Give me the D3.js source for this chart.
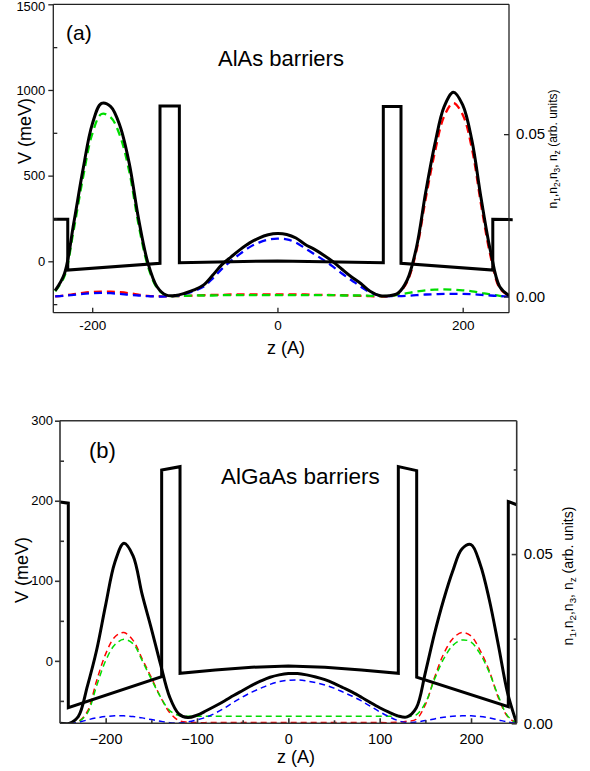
<!DOCTYPE html>
<html>
<head>
<meta charset="utf-8">
<script src="https://cdn.jsdelivr.net/npm/d3@7/dist/d3.min.js"></script>
<style>
  body { margin: 0; background: #fff; }
  svg text { font-family: Arial, "Liberation Sans", sans-serif; fill: #000; }
</style>
</head>
<body>
<svg id="chart" width="590" height="771"></svg>
<script>
// ---------- Panel (a): AlAs barriers ----------
// conduction-band potential (meV) along z (Å)
const potA_z = [-242, -226.4, -226.4, -126.8, -126.8, -105.9, -105.9, -50, 0, 50, 114.3, 114.3, 133.4, 133.4, 232.5, 232.5, 254];
const potA_v = [245, 245, -51, -12, 906, 906, -8, -2, 2, -2, -8, 904, 904, -12, -51, 245, 243];

// sample positions for the electron densities (Å)
const zA = [-240, -230, -220, -210, -200, -190, -180, -170, -160, -150, -140, -130, -120, -110, -100, -90, -80, -70, -60, -50,
            -40, -30, -20, -10, 0, 10, 20, 30, 40, 50, 60, 70, 80, 90, 100, 110, 120, 130, 140, 150,
            160, 170, 180, 190, 200, 210, 220, 230, 240, 250];
// total density n_z
const nzA = [0.0018, 0.0070, 0.0225, 0.0390, 0.0530, 0.0595, 0.0585, 0.0525, 0.0410, 0.0240, 0.0105, 0.0030, 0.0004, 0.0003, 0.0010, 0.0020, 0.0035, 0.0065, 0.0098, 0.0122,
             0.0145, 0.0165, 0.0180, 0.0190, 0.0194, 0.0191, 0.0180, 0.0160, 0.0145, 0.0127, 0.0107, 0.0083, 0.0060, 0.0040, 0.0016, 0.0003, 0.0002, 0.0010, 0.0050, 0.0150,
             0.0320, 0.0470, 0.0585, 0.0629, 0.0590, 0.0480, 0.0300, 0.0140, 0.0030, 0.0003];
// subband densities n1 (red), n2 (green), n3 (blue)
const n1A = [0.0000, 0.0003, 0.0007, 0.0011, 0.0014, 0.0015, 0.0015, 0.0013, 0.0010, 0.0006, 0.0002, 0.0001, 0.0000, 0.0001, 0.0002, 0.0003, 0.0004, 0.0005, 0.0005, 0.0006,
             0.0006, 0.0006, 0.0006, 0.0006, 0.0006, 0.0006, 0.0006, 0.0006, 0.0005, 0.0005, 0.0004, 0.0004, 0.0003, 0.0002, 0.0001, 0.0000, 0.0001, 0.0008, 0.0045, 0.0140,
             0.0300, 0.0445, 0.0555, 0.0596, 0.0560, 0.0455, 0.0280, 0.0125, 0.0025, 0.0002];
const n2A = [0.0016, 0.0062, 0.0205, 0.0365, 0.0500, 0.0562, 0.0552, 0.0495, 0.0385, 0.0222, 0.0095, 0.0026, 0.0003, 0.0001, 0.0002, 0.0003, 0.0003, 0.0003, 0.0004, 0.0004,
             0.0004, 0.0004, 0.0004, 0.0004, 0.0004, 0.0004, 0.0004, 0.0004, 0.0004, 0.0004, 0.0004, 0.0003, 0.0003, 0.0003, 0.0002, 0.0001, 0.0002, 0.0005, 0.0010, 0.0015,
             0.0019, 0.0021, 0.0022, 0.0021, 0.0019, 0.0016, 0.0011, 0.0006, 0.0002, 0.0000];
const n3A = [0.0000, 0.0002, 0.0005, 0.0008, 0.0010, 0.0011, 0.0010, 0.0008, 0.0005, 0.0003, 0.0001, 0.0000, 0.0000, 0.0002, 0.0008, 0.0017, 0.0030, 0.0055, 0.0085, 0.0110,
             0.0132, 0.0152, 0.0166, 0.0175, 0.0178, 0.0176, 0.0166, 0.0148, 0.0130, 0.0112, 0.0092, 0.0070, 0.0050, 0.0030, 0.0013, 0.0003, 0.0001, 0.0001, 0.0002, 0.0004,
             0.0006, 0.0007, 0.0008, 0.0008, 0.0008, 0.0007, 0.0005, 0.0003, 0.0001, 0.0000];

// ---------- Panel (b): AlGaAs barriers ----------
const potB_z = [-250, -240.9, -240.9, -138.7, -138.7, -118.6, -118.6, -80, -40, 0, 40, 80, 120.4, 120.4, 140.5, 140.5, 240.8, 240.8, 250];
const potB_v = [198.5, 197, -58.5, -19.7, 238.5, 242.6, -15.5, -11.5, -8, -6.4, -8, -11.5, -15.5, 242.6, 237.6, -20.5, -57.2, 199, 195];

const zB = [-250, -240, -230, -220, -210, -200, -190, -180, -170, -160, -150, -140, -130, -120, -110, -100, -90, -80, -70, -60,
            -50, -40, -30, -20, -10, 0, 10, 20, 30, 40, 50, 60, 70, 80, 90, 100, 110, 120, 130, 140,
            150, 160, 170, 180, 190, 200, 210, 220, 230, 240, 250];
const nzB = [0.0000, 0.0000, 0.0020, 0.0110, 0.0215, 0.0350, 0.0475, 0.0532, 0.0495, 0.0380, 0.0280, 0.0175, 0.0078, 0.0028, 0.0017, 0.0024, 0.0037, 0.0051, 0.0066, 0.0082,
             0.0097, 0.0112, 0.0125, 0.0136, 0.0143, 0.0147, 0.0147, 0.0143, 0.0137, 0.0129, 0.0118, 0.0105, 0.0092, 0.0077, 0.0061, 0.0046, 0.0033, 0.0022, 0.0019, 0.0045,
             0.0150, 0.0265, 0.0365, 0.0450, 0.0515, 0.0528, 0.0470, 0.0365, 0.0230, 0.0090, 0.0000];
const n1B = [0.0000, 0.0000, 0.0005, 0.0035, 0.0125, 0.0205, 0.0255, 0.0268, 0.0245, 0.0190, 0.0135, 0.0078, 0.0032, 0.0008, 0.0003, 0.0002, 0.0002, 0.0002, 0.0002, 0.0002,
             0.0002, 0.0002, 0.0002, 0.0002, 0.0002, 0.0002, 0.0002, 0.0002, 0.0002, 0.0002, 0.0002, 0.0002, 0.0002, 0.0002, 0.0002, 0.0002, 0.0002, 0.0003, 0.0006, 0.0012,
             0.0055, 0.0135, 0.0205, 0.0250, 0.0268, 0.0258, 0.0215, 0.0155, 0.0075, 0.0020, 0.0000];
const n2B = [0.0000, 0.0000, 0.0005, 0.0030, 0.0110, 0.0185, 0.0232, 0.0248, 0.0235, 0.0185, 0.0130, 0.0078, 0.0038, 0.0023, 0.0021, 0.0021, 0.0021, 0.0021, 0.0021, 0.0021,
             0.0021, 0.0021, 0.0021, 0.0021, 0.0021, 0.0021, 0.0021, 0.0021, 0.0021, 0.0021, 0.0021, 0.0021, 0.0021, 0.0021, 0.0021, 0.0021, 0.0021, 0.0020, 0.0020, 0.0025,
             0.0060, 0.0130, 0.0190, 0.0230, 0.0246, 0.0240, 0.0205, 0.0150, 0.0080, 0.0022, 0.0000];
const n3B = [0.0000, 0.0000, 0.0003, 0.0010, 0.0016, 0.0020, 0.0022, 0.0022, 0.0020, 0.0016, 0.0011, 0.0006, 0.0002, 0.0001, 0.0004, 0.0010, 0.0018, 0.0030, 0.0045, 0.0062,
             0.0078, 0.0092, 0.0104, 0.0115, 0.0123, 0.0127, 0.0128, 0.0125, 0.0120, 0.0113, 0.0104, 0.0092, 0.0080, 0.0066, 0.0050, 0.0034, 0.0020, 0.0008, 0.0002, 0.0004,
             0.0008, 0.0013, 0.0018, 0.0021, 0.0022, 0.0022, 0.0020, 0.0016, 0.0010, 0.0004, 0.0000];

// ---------- drawing ----------
const svg = d3.select("#chart");
const FONT = "Arial, 'Liberation Sans', sans-serif";
const zip = (xs, ys) => xs.map((v, i) => [v, ys[i]]);
let clipId = 0;

function drawPanel(p) {
  const x = d3.scaleLinear().domain(p.zDomain).range([p.left, p.right]);
  const yV = d3.scaleLinear().domain(p.vDomain).range([p.bottom, p.top]);
  const yN = d3.scaleLinear().domain(p.nDomain).range([p.bottom, p.top]);
  const g = svg.append("g");

  const cid = "plotclip" + (clipId++);
  svg.append("clipPath").attr("id", cid).append("rect")
    .attr("x", p.left).attr("y", p.top).attr("width", p.right - p.left).attr("height", p.bottom - p.top);

  const densLine = d3.line().x(d => x(d[0])).y(d => yN(d[1])).curve(d3.curveCatmullRom.alpha(0.5));
  const potLine = d3.line().x(d => x(d[0])).y(d => yV(d[1]));

  const dens = g.append("g").attr("clip-path", `url(#${cid})`);
  // subband densities, dashed
  p.subbands.forEach(s => {
    dens.append("path")
      .attr("d", densLine(zip(p.zGrid, s.values)))
      .attr("fill", "none")
      .attr("stroke", s.color)
      .attr("stroke-width", p.dashWidth)
      .attr("stroke-dasharray", p.dash);
  });
  // total density
  dens.append("path")
    .attr("d", densLine(zip(p.zGrid, p.total)))
    .attr("fill", "none").attr("stroke", "#000")
    .attr("stroke-width", 3).attr("stroke-linejoin", "round");
  // potential profile
  g.append("path")
    .attr("d", potLine(zip(p.potZ, p.potV)))
    .attr("fill", "none").attr("stroke", "#000")
    .attr("stroke-width", 3).attr("stroke-linejoin", "miter");

  // frame
  const frame = g.append("g").attr("stroke", p.axisColor).attr("stroke-width", p.axisWidth).attr("fill", "none");
  frame.append("line").attr("x1", p.left).attr("x2", p.right).attr("y1", p.top).attr("y2", p.top);
  frame.append("line").attr("x1", p.left).attr("x2", p.right).attr("y1", p.bottom).attr("y2", p.bottom);
  frame.append("line").attr("x1", p.left).attr("x2", p.left).attr("y1", p.top).attr("y2", p.bottom);
  frame.append("line").attr("x1", p.right).attr("x2", p.right).attr("y1", p.top).attr("y2", p.bottom);

  const styleAxis = (sel, size) => {
    sel.select(".domain").remove();
    sel.attr("font-family", FONT).attr("font-size", size);
    sel.selectAll("line").attr("stroke", p.axisColor).attr("stroke-width", p.axisWidth);
    sel.selectAll("text").attr("fill", "#000");
  };

  // left axis (potential)
  const leftAxis = g.append("g").attr("transform", `translate(${p.left},0)`)
    .call(d3.axisLeft(yV).tickValues(p.vMajor).tickSize(5).tickPadding(p.leftPad).tickFormat(d3.format("d")))
    .call(s => styleAxis(s, p.leftFont));
  // keep the topmost label inside the page
  leftAxis.selectAll(".tick text").filter(d => yV(d) < 8).attr("dy", "0.45em");
  g.append("g").attr("transform", `translate(${p.left},0)`)
    .call(d3.axisLeft(yV).tickValues(p.vMinor).tickSize(-4).tickFormat(""))
    .call(s => styleAxis(s, p.leftFont));

  // bottom axis (z)
  g.append("g").attr("transform", `translate(0,${p.bottom})`)
    .call(d3.axisBottom(x).tickValues(p.zMajor).tickSize(-5).tickPadding(p.bottomPad).tickFormat(p.zFormat))
    .call(s => styleAxis(s, p.bottomFont));
  if (p.zMinor.length) {
    g.append("g").attr("transform", `translate(0,${p.bottom})`)
      .call(d3.axisBottom(x).tickValues(p.zMinor).tickSize(-3).tickFormat(""))
      .call(s => styleAxis(s, p.bottomFont));
  }

  // right axis (densities)
  g.append("g").attr("transform", `translate(${p.right},0)`)
    .call(d3.axisRight(yN).tickValues(p.nMajor).tickSize(-5).tickPadding(7).tickFormat(d3.format(".2f")))
    .call(s => styleAxis(s, p.rightFont));
  if (p.nMinor.length) {
    g.append("g").attr("transform", `translate(${p.right},0)`)
      .call(d3.axisRight(yN).tickValues(p.nMinor).tickSize(-3).tickFormat(""))
      .call(s => styleAxis(s, p.rightFont));
  }

  // axis titles
  g.append("text")
    .attr("transform", `translate(${p.vTitle[0]},${p.vTitle[1]}) rotate(-90)`)
    .attr("text-anchor", "middle").attr("dominant-baseline", "central")
    .attr("font-size", 18).text("V (meV)");
  g.append("text")
    .attr("x", p.zTitle[0]).attr("y", p.zTitle[1])
    .attr("text-anchor", "middle").attr("font-size", 18).text("z (A)");

  const nt = g.append("text")
    .attr("transform", `translate(${p.nTitle[0]},${p.nTitle[1]}) rotate(-90)`)
    .attr("text-anchor", "middle").attr("dominant-baseline", "central")
    .attr("font-size", p.nTitleFont);
  const fs = p.nTitleFont, sub = fs * 0.7, shift = fs * 0.3;
  const parts = [["n", false], ["1", true], [",n", false], ["2", true], [",n", false], ["3", true], [", n", false], ["z", true], [" (arb. units)", false]];
  let down = false;
  parts.forEach(([t, isSub]) => {
    const ts = nt.append("tspan").text(t);
    if (isSub) { ts.attr("font-size", sub).attr("dy", shift); down = true; }
    else if (down) { ts.attr("dy", -shift); down = false; }
  });

  // panel tag and caption
  g.append("text").attr("x", p.tag[0]).attr("y", p.tag[1]).attr("font-size", p.tag[2]).text(p.tag[3]);
  g.append("text").attr("x", p.caption[0]).attr("y", p.caption[1]).attr("font-size", p.caption[3]).text(p.caption[2]);
}

const subColors = ["#ff0000", "#00dd00", "#0000ff"];

drawPanel({
  left: 53.3, right: 509, top: 4.3, bottom: 312.7,
  zDomain: [-242, 250], vDomain: [-300, 1500], nDomain: [-0.005, 0.09],
  zGrid: zA, total: nzA,
  subbands: [{ values: n1A, color: subColors[0] }, { values: n2A, color: subColors[1] }, { values: n3A, color: subColors[2] }],
  potZ: potA_z, potV: potA_v,
  dash: "8,5", dashWidth: 2.3,
  axisColor: "#222", axisWidth: 1.3,
  vMajor: [0, 500, 1000, 1500], vMinor: [-250, 250, 750, 1250],
  zMajor: [-200, 0, 200], zMinor: [], zFormat: d => String(d),
  nMajor: [0, 0.05], nMinor: [],
  leftPad: 3, bottomPad: 8, leftFont: 13, bottomFont: 13.5, rightFont: 15,
  vTitle: [25, 131], zTitle: [286, 354], nTitle: [553, 149], nTitleFont: 12,
  tag: [66, 40, 21, "(a)"], caption: [218, 66, "AlAs barriers", 22]
});

drawPanel({
  left: 60, right: 516.7, top: 420.7, bottom: 723.3,
  zDomain: [-250, 250], vDomain: [-78, 300], nDomain: [0, 0.0894],
  zGrid: zB, total: nzB,
  subbands: [{ values: n1B, color: subColors[0] }, { values: n2B, color: subColors[1] }, { values: n3B, color: subColors[2] }],
  potZ: potB_z, potV: potB_v,
  dash: "6,4", dashWidth: 1.5,
  axisColor: "#333", axisWidth: 1.6,
  vMajor: [0, 100, 200, 300], vMinor: [-50, 50, 150, 250],
  zMajor: [-200, -100, 0, 100, 200], zMinor: [-150, -50, 50, 150], zFormat: d3.format("d"),
  nMajor: [0, 0.05], nMinor: [0.025, 0.075],
  leftPad: 2, bottomPad: 10, leftFont: 13, bottomFont: 14.5, rightFont: 15,
  vTitle: [22, 570], zTitle: [296, 763], nTitle: [568, 576], nTitleFont: 14,
  tag: [89, 458, 22, "(b)"], caption: [221, 484, "AlGaAs barriers", 22.5]
});
</script>
</body>
</html>
